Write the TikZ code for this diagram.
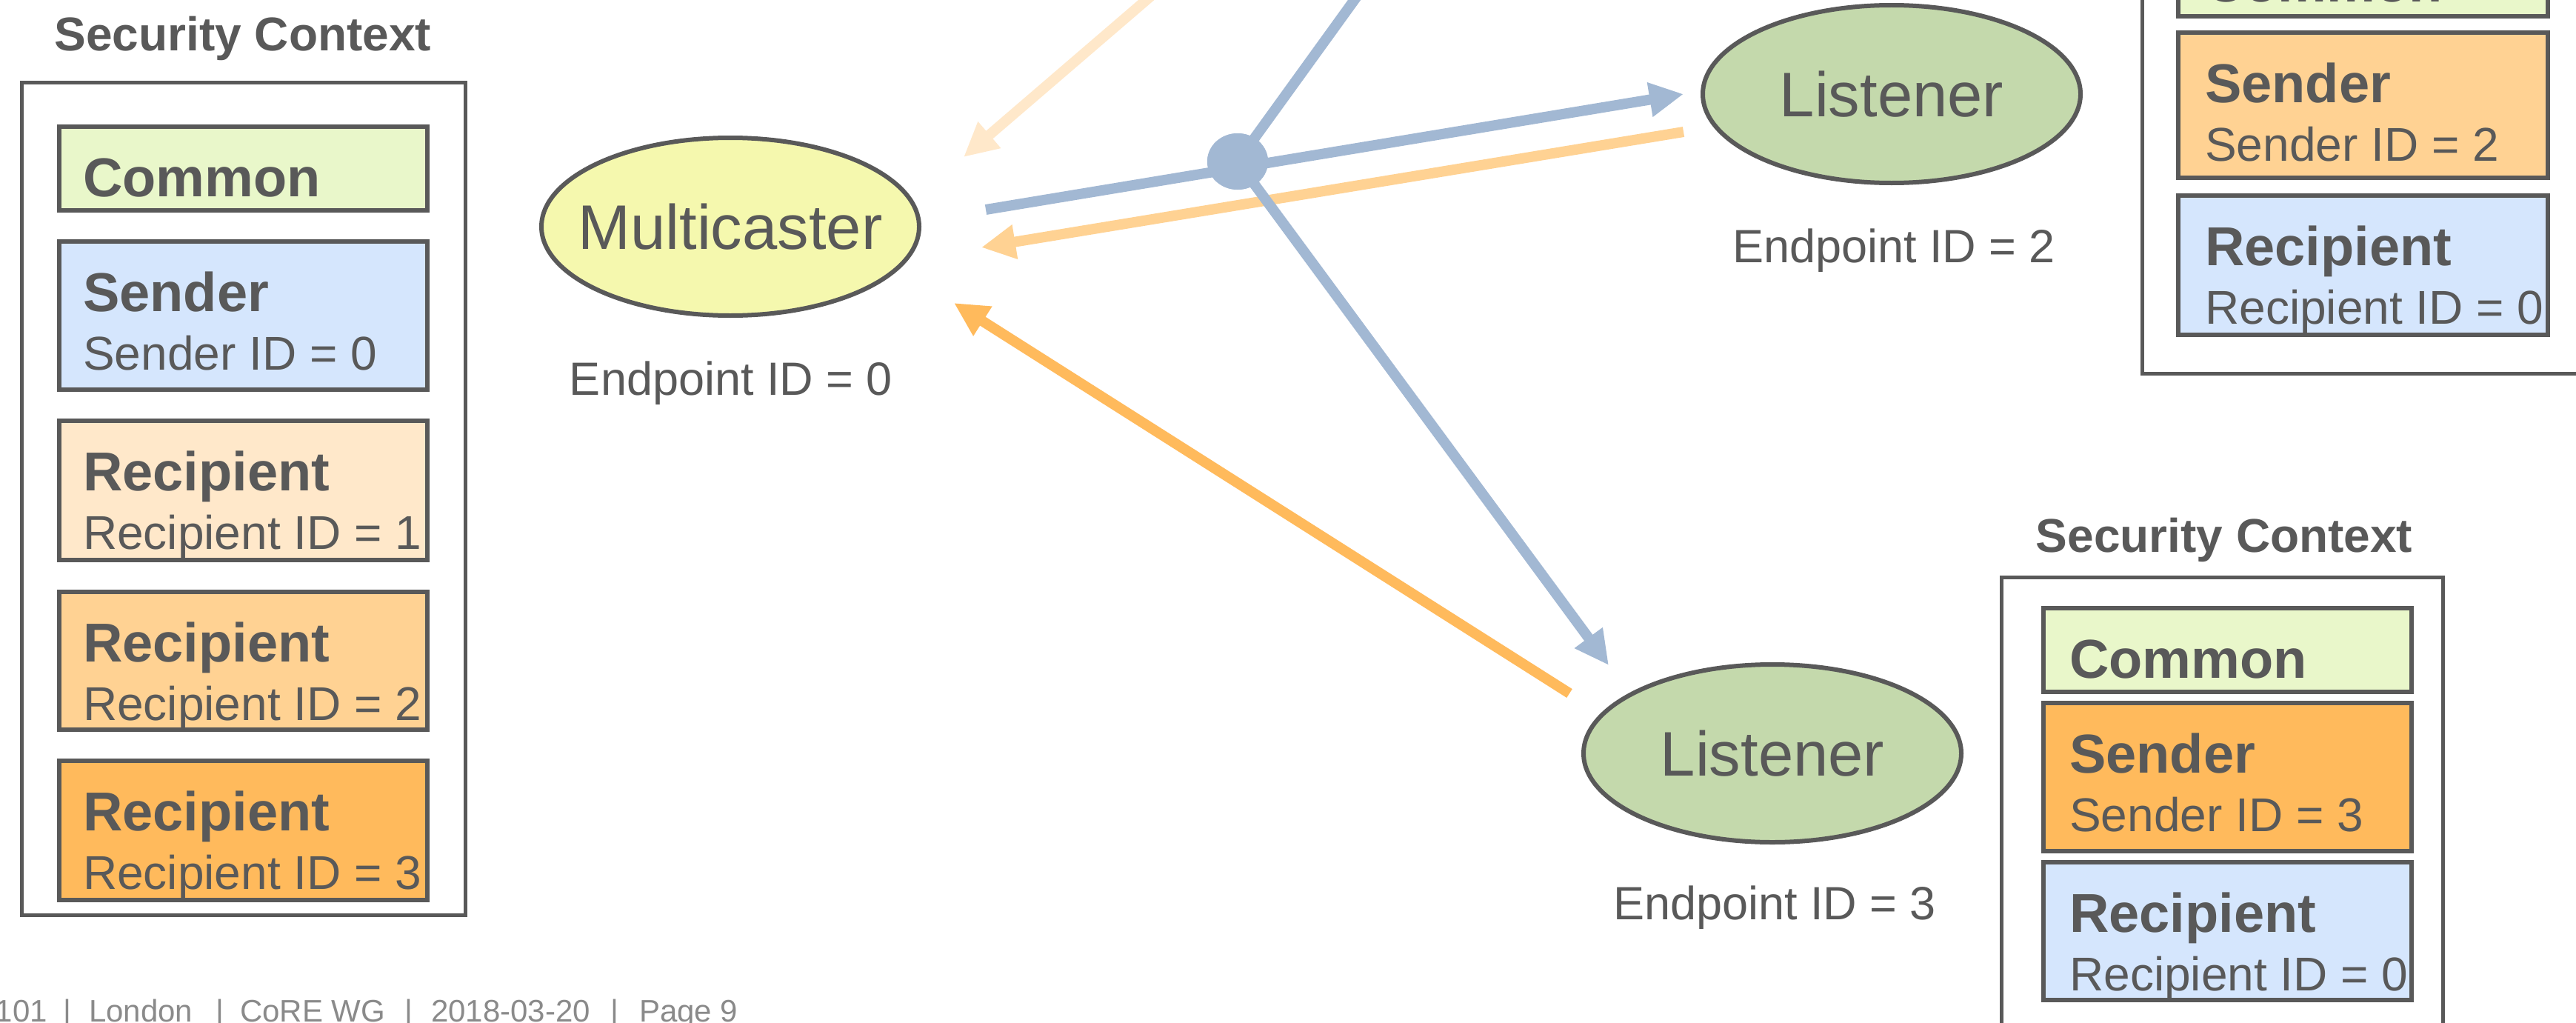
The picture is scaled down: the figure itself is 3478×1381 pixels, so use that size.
\documentclass[tikz,border=0pt]{standalone}
\usepackage{fontspec}
\setmainfont{Liberation Sans}
\usetikzlibrary{arrows.meta,shapes.geometric}
\definecolor{tgray}{HTML}{595959}
\definecolor{footgray}{HTML}{8A8A8A}
\definecolor{commonfill}{HTML}{E9F7CA}
\definecolor{bluefill}{HTML}{D5E6FD}
\definecolor{orA}{HTML}{FFE8CA}
\definecolor{orB}{HTML}{FFD293}
\definecolor{orC}{HTML}{FFBA5C}
\definecolor{yelfill}{HTML}{F5F8AE}
\definecolor{grnfill}{HTML}{C4D9AC}
\definecolor{blueline}{HTML}{A2B8D3}
\tikzset{
  outerbox/.style={draw=tgray, line width=5pt, inner sep=0pt, outer sep=0pt, anchor=north west},
  innerbox/.style={draw=tgray, line width=6pt, inner sep=0pt, outer sep=0pt, anchor=north west},
  boldlbl/.style={font=\fontsize{74}{80}\selectfont\bfseries, text=tgray, inner sep=0pt, anchor=base west},
  sublbl/.style={font=\fontsize{64}{70}\selectfont, text=tgray, inner sep=0pt, anchor=base west},
  ttl/.style={font=\fontsize{64}{70}\selectfont\bfseries, text=tgray, inner sep=0pt, anchor=base},
  endpt/.style={ellipse, draw=tgray, line width=6pt, minimum width=510pt, minimum height=240pt, inner sep=0pt},
  endptlbl/.style={font=\fontsize{85}{90}\selectfont, text=tgray, inner sep=0pt},
  idlbl/.style={font=\fontsize{63}{70}\selectfont, text=tgray, inner sep=0pt, anchor=base},
  flowline/.style={line width=14pt},
  flow/.style={line width=14pt, -{Triangle[length=46pt,width=44pt]}},
  hubdot/.style={ellipse, fill=blueline, minimum width=82pt, minimum height=76pt, inner sep=0pt},
  foot/.style={font=\fontsize{42}{46}\selectfont, text=footgray, inner sep=0pt, anchor=base west}
}
% #1 name, #2 x, #3 top, #4 width, #5 height, #6 fill, #7 text x offset, #8 bold label, #9 sub label
\newcommand\ctxbox[9]{%
  \node[innerbox, fill=#6, minimum width=#4pt, minimum height=#5pt] (#1) at (#2,#3) {};
  \node[boldlbl] (#1-t) at ([xshift=#7pt,yshift=-94pt]#1.north west) {#8};
  \if\relax\detokenize{#9}\relax\else
  \node[sublbl] (#1-s) at ([xshift=#7pt,yshift=-173pt]#1.north west) {#9};\fi}
\begin{document}
\begin{tikzpicture}[x=1pt,y=-1pt]
\useasboundingbox (0,0) rectangle (3478,1381);
\clip (0,0) rectangle (3478,1381);
\fill[white] (0,0) rectangle (3478,1381);

% ---------- left security context ----------
\node[ttl] (lsc-title) at (328,69) {Security Context};
\node[outerbox, minimum width=599pt, minimum height=1124pt] (lsc) at (29,111) {};
\ctxbox{lc}{80}{171}{497}{113}{commonfill}{32}{Common}{}
\ctxbox{ls}{80}{326}{497}{200}{bluefill}{32}{Sender}{Sender ID = 0}
\ctxbox{lr1}{80}{568}{497}{188}{orA}{32}{Recipient}{Recipient ID = 1}
\ctxbox{lr2}{80}{799}{497}{186}{orB}{32}{Recipient}{Recipient ID = 2}
\ctxbox{lr3}{80}{1027}{497}{188}{orC}{32}{Recipient}{Recipient ID = 3}

% ---------- top right security context ----------
\node[outerbox, minimum width=600pt, minimum height=554pt] (tsc) at (2892,-50) {};
\ctxbox{tc}{2941}{-91}{499}{113}{commonfill}{36}{Common}{}
\ctxbox{ts}{2941}{44}{499}{196}{orB}{36}{Sender}{Sender ID = 2}
\ctxbox{tr}{2941}{264}{499}{188}{bluefill}{36}{Recipient}{Recipient ID = 0}

% ---------- bottom right security context ----------
\node[ttl] (bsc-title) at (3003,745) {Security Context};
\node[outerbox, minimum width=596pt, minimum height=680pt] (bsc) at (2702,779) {};
\ctxbox{bc}{2759}{821}{497}{113}{commonfill}{35}{Common}{}
\ctxbox{bs}{2759}{949}{497}{200}{orC}{35}{Sender}{Sender ID = 3}
\ctxbox{br}{2759}{1164}{497}{186}{bluefill}{35}{Recipient}{Recipient ID = 0}

% ---------- endpoints ----------
\node[endpt, fill=yelfill] (m) at (986,306) {};
\node[endptlbl] (m-t) at (m.center) {Multicaster};
\node[idlbl] (m-id) at (987,533) {Endpoint ID = 0};

\node[endpt, fill=grnfill] (l2) at (2554,127) {};
\node[endptlbl] (l2-t) at (l2.center) {Listener};
\node[idlbl] (l2-id) at (2557,354) {Endpoint ID = 2};

\node[endpt, fill=grnfill] (l3) at (2393,1017) {};
\node[endptlbl] (l3-t) at (l3.center) {Listener};
\node[idlbl] (l3-id) at (2396,1241) {Endpoint ID = 3};

% ---------- connectors ----------
\coordinate (bstart) at (1331,283);
\coordinate (btipL2) at (2273,127);
\coordinate (btop) at (1843,-20);
\coordinate (btipL3) at (2172,898);
\coordinate (oL2start) at (2273,178);
\coordinate (oL2tip) at (1325,334);
\coordinate (oL3start) at (2119,936);
\coordinate (oL3tip) at (1288,409);
\coordinate (pstart) at (1571,-20);
\coordinate (ptip) at (1301,212);
\node[hubdot] (hub) at (1671,218) {};

\draw[flow, orA] (pstart) -- (ptip);
\draw[flow, orB] (oL2start) -- (oL2tip);
\draw[flow, orC] (oL3start) -- (oL3tip);
\draw[flow, blueline] (bstart) -- (btipL2);
\draw[flowline, blueline] (btop) -- (hub.center);
\draw[flow, blueline] (hub.center) -- (btipL3);
\fill[blueline] (hub.center) ellipse [x radius=41pt, y radius=38pt];

% ---------- footer ----------
\node[foot, anchor=base east] (f1) at (64,1379) {101};
\node[foot, anchor=base] (f2) at (91,1379) {|};
\node[foot] (f3) at (120,1379) {London};
\node[foot, anchor=base] (f4) at (297,1379) {|};
\node[foot] (f5) at (324,1379) {CoRE WG};
\node[foot, anchor=base] (f6) at (552,1379) {|};
\node[foot] (f7) at (582,1379) {2018-03-20};
\node[foot, anchor=base] (f8) at (830,1379) {|};
\node[foot] (f9) at (863,1379) {Page 9};
\end{tikzpicture}
\end{document}
